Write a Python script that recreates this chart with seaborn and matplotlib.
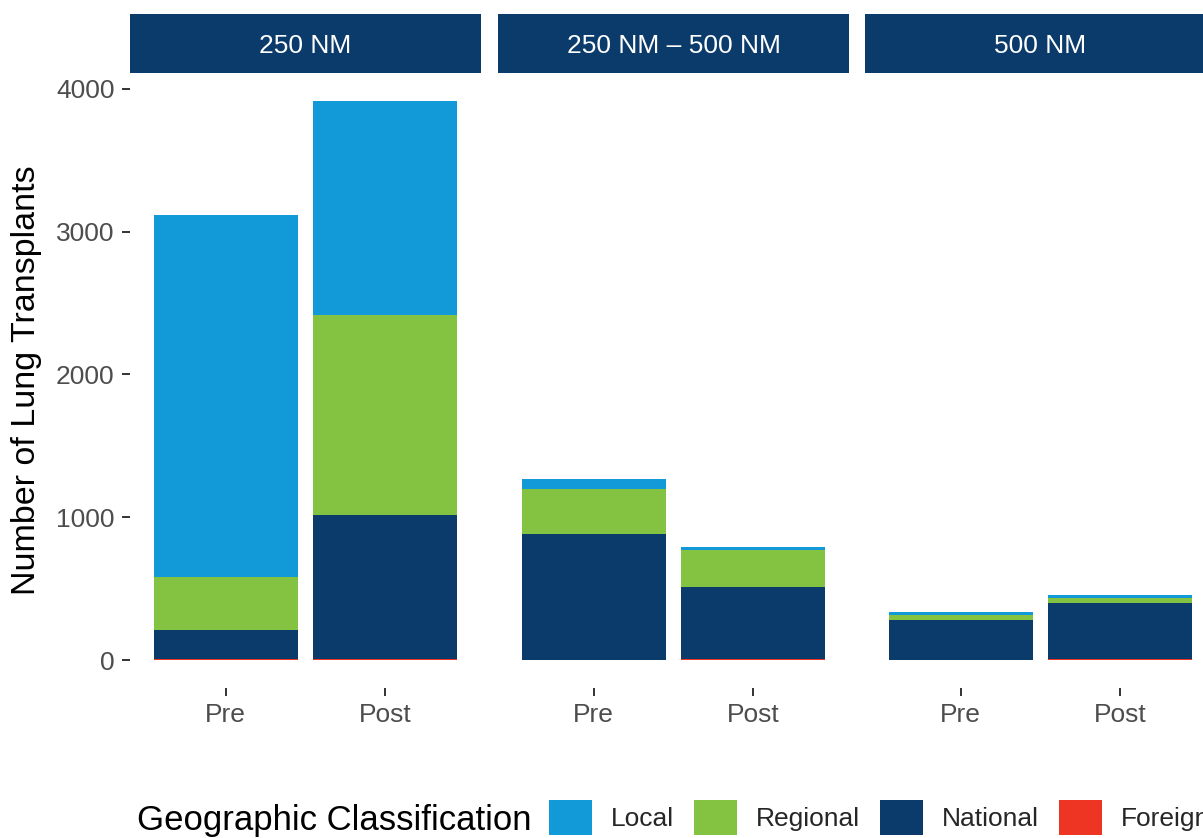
import numpy as np
import pandas as pd
import matplotlib
matplotlib.use("Agg")
import matplotlib.pyplot as plt
import seaborn as sns
from matplotlib.patches import Patch

# ---------------- data ----------------
regions = ["250 NM", "250 NM \u2013 500 NM", "500 NM"]
periods = ["Pre", "Post"]
classes = ["Local", "Regional", "National", "Foreign"]
# order: 250 Pre, 250 Post, 250-500 Pre, 250-500 Post, 500 Pre, 500 Post
local = [2535, 1496, 70, 21, 21, 21]
regional = [375, 1400, 315, 259, 35, 35]
national = [198, 1008, 881, 503, 280, 392]
foreign = [10, 10, 0, 10, 0, 10]
y_ticks = [0, 1000, 2000, 3000, 4000]

colors = {"Local": "#1199D8", "Regional": "#84C341",
          "National": "#0B3B6B", "Foreign": "#EE3524"}
strip_color = "#0B3B6B"

df = pd.DataFrame({
    "region": np.repeat(regions, 2),
    "period": periods * 3,
    "Local": local,
    "Regional": regional,
    "National": national,
    "Foreign": foreign,
})
stack_bottom_up = ["Foreign", "National", "Regional", "Local"]
cum = df[stack_bottom_up].cumsum(axis=1)
for c in stack_bottom_up:
    df["cum_" + c] = cum[c]

# ---------------- style ----------------
sns.set_theme(style="white")
plt.rcParams["font.family"] = ["Liberation Sans", "DejaVu Sans"]

W, H = 1203, 838
fig = plt.figure(figsize=(W / 100, H / 100), dpi=100)

def fx(px):
    return px / W

def fy(px):
    return 1 - px / H

panel_left = [130, 498, 865]
panel_w = 351
panel_top, panel_bot = 73, 688
strip_top = 14

max_total = df["cum_Local"].max()
pad = 0.05 * max_total

tick_color = "#333333"
label_color = "#4D4D4D"

for i, reg in enumerate(regions):
    ax = fig.add_axes([fx(panel_left[i]), fy(panel_bot), panel_w / W,
                       (panel_bot - panel_top) / H])
    sub = df[df["region"] == reg]
    for c in reversed(stack_bottom_up):
        sns.barplot(data=sub, x="period", y="cum_" + c, order=periods,
                    color=colors[c], saturation=1, width=0.9,
                    errorbar=None, linewidth=0, ax=ax)
    ax.set_xlim(-0.6, 1.6)
    ax.set_ylim(-pad, max_total + pad)
    for s in ax.spines.values():
        s.set_visible(False)
    ax.set_facecolor("none")
    ax.set_xlabel("")
    ax.tick_params(axis="x", bottom=True, length=6, width=1.4,
                   color=tick_color, labelcolor=label_color,
                   labelsize=19, pad=4.5)
    if i == 0:
        ax.set_yticks(y_ticks)
        ax.set_yticklabels([str(v) for v in y_ticks])
        ax.tick_params(axis="y", left=True, length=6, width=1.4,
                       color=tick_color, labelcolor=label_color,
                       labelsize=19, pad=5)
        ax.set_ylabel("Number of Lung Transplants", fontsize=24.5,
                      color="black")
        ax.yaxis.label.set_va("center")
        ax.yaxis.set_label_coords((27 - panel_left[0]) / panel_w, 0.5)
    else:
        ax.set_yticks([])
        ax.set_ylabel("")

    # facet strip
    sax = fig.add_axes([fx(panel_left[i]), fy(panel_top), panel_w / W,
                        (panel_top - strip_top) / H])
    sax.set_facecolor(strip_color)
    sax.set_xticks([])
    sax.set_yticks([])
    for s in sax.spines.values():
        s.set_visible(False)
    sax.text(0.5, 0.5, reg, color="white", fontsize=19,
             ha="center", va="center_baseline", transform=sax.transAxes)

# ---------------- legend ----------------
fig.text(fx(137), fy(830), "Geographic Classification", fontsize=25,
         ha="left", va="baseline", color="black")
handles = [Patch(facecolor=colors[c], edgecolor="none", label=c) for c in classes]
fs = 19
fs_px = fs * 100 / 72
fig.legend(handles=handles, loc="center left",
           bbox_to_anchor=(fx(549), fy(817.5)), ncol=4, frameon=False,
           fontsize=fs, handlelength=43 / fs_px, handleheight=43 / fs_px,
           handletextpad=19 / fs_px, columnspacing=20 / fs_px,
           borderpad=0, borderaxespad=0)

fig.savefig("out.png", dpi=100)
